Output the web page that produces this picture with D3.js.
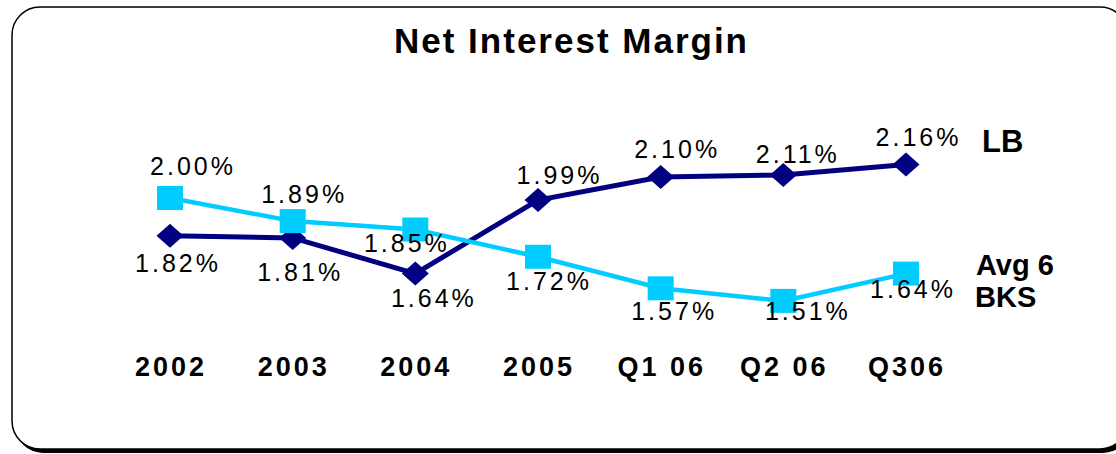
<!DOCTYPE html>
<html><head><meta charset="utf-8">
<script src="https://cdn.jsdelivr.net/npm/d3@7"></script>
<style>body{margin:0;background:#fff}svg{display:block}</style>
</head><body><svg id="c" width="1116" height="454"></svg>
<script>
// ---- data ----
const categories = ["2002", "2003", "2004", "2005", "Q1 06", "Q2 06", "Q306"];
const lbValues = [1.82, 1.81, 1.64, 1.99, 2.10, 2.11, 2.16];
const bksValues = [2.00, 1.89, 1.85, 1.72, 1.57, 1.51, 1.64];
const chartTitle = "Net Interest Margin";
const lbName = ["LB"];
const bksName = ["Avg 6", "BKS"];

// ---- layout (label nudges per point: [dx, dy]) ----
const lbLabelOffsets = [[6.5,36],[6,43],[17,33],[20,-16],[15,-19],[13,-12],[11,-18]];
const bksLabelOffsets = [[21.5,-23],[10,-18],[-10,22.5],[9.5,33],[12,32],[23,19],[5.5,24]];

const svg = d3.select("#c");
const FONT = "'Liberation Sans', Arial, sans-serif";

// frame with shadow
svg.append("rect").attr("x", 15).attr("y", 11).attr("width", 1116).attr("height", 442)
  .attr("rx", 28).attr("ry", 28).attr("fill", "#000");
svg.append("rect").attr("x", 12).attr("y", 7).attr("width", 1116).attr("height", 442)
  .attr("rx", 28).attr("ry", 28).attr("fill", "#fff").attr("stroke", "#000").attr("stroke-width", 1.5);

// title
svg.append("text").attr("x", 571.5).attr("y", 53).attr("text-anchor", "middle")
  .style("font-family", FONT).style("font-weight", "bold").style("font-size", "35px")
  .style("letter-spacing", "2px").text(chartTitle);

const x = d3.scalePoint().domain(categories).range([170, 906]);
const y = d3.scaleLinear().domain([1.4, 2.3]).range([324, 135]);

// x axis labels
const xAxis = d3.axisBottom(x).tickSize(0).tickPadding(0);
const ax = svg.append("g").attr("transform", "translate(0.5,356)").call(xAxis);
ax.select(".domain").remove();
ax.selectAll("text").attr("dy", 0).attr("y", 20).attr("fill", "#000")
  .style("font-family", FONT).style("font-weight", "bold").style("font-size", "27px")
  .style("letter-spacing", "3px");

const line = d3.line().x((d, i) => x(categories[i])).y(d => y(d));

// LB series
svg.append("path").datum(lbValues).attr("d", line).attr("fill", "none")
  .attr("stroke", "#000080").attr("stroke-width", 5);
svg.append("g").selectAll("path").data(lbValues).join("path")
  .attr("transform", (d, i) => `translate(${x(categories[i])},${y(d)})`)
  .attr("d", "M0,-12L13.5,0L0,12L-13.5,0Z").attr("fill", "#000080");

// BKS series
svg.append("path").datum(bksValues).attr("d", line).attr("fill", "none")
  .attr("stroke", "#00CCFF").attr("stroke-width", 4.5);
svg.append("g").selectAll("rect").data(bksValues).join("rect")
  .attr("x", (d, i) => x(categories[i]) - 13).attr("y", d => y(d) - 12)
  .attr("width", 26).attr("height", 24).attr("fill", "#00CCFF");

// value labels
const fmt = v => d3.format(".2f")(v) + "%";
function labels(vals, offs) {
  svg.append("g").selectAll("text").data(vals).join("text")
    .attr("x", (d, i) => x(categories[i]) + offs[i][0] + 1.5)
    .attr("y", (d, i) => y(d) + offs[i][1])
    .attr("text-anchor", "middle").attr("fill", "#000")
    .style("font-family", FONT).style("font-size", "25px").style("letter-spacing", "3px")
    .text(fmt);
}
labels(lbValues, lbLabelOffsets);
labels(bksValues, bksLabelOffsets);

// series names
const nameStyle = (s, size) => s.style("font-family", FONT).style("font-weight", "bold").style("font-size", size + "px").attr("fill", "#000");
svg.append("text").attr("x", 982).attr("y", 152).text(lbName[0]).call(nameStyle, 31);
svg.append("g").selectAll("text").data(bksName).join("text")
  .attr("x", (d, i) => 976 - i).attr("y", (d, i) => 274.5 + i * 32.6)
  .text(d => d).call(nameStyle, 29);
</script></body></html>
